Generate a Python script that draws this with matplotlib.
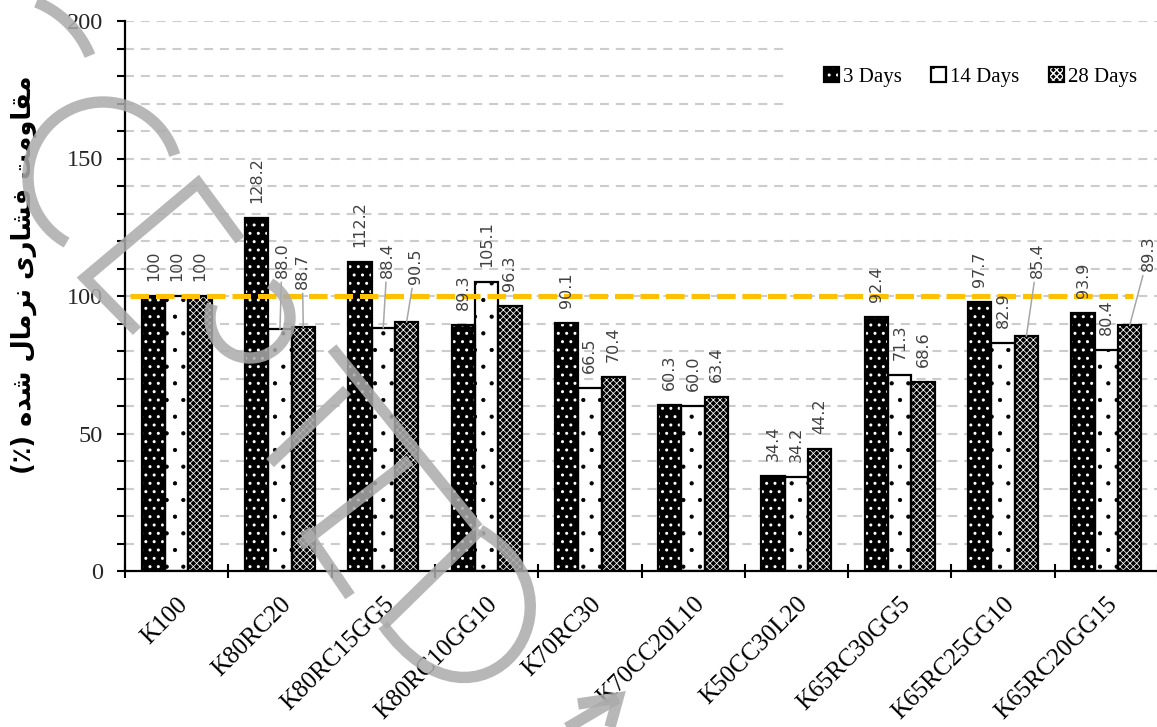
import numpy as np
import matplotlib.pyplot as plt
from matplotlib.patches import Patch
from matplotlib.path import Path
from matplotlib.patches import PathPatch
from matplotlib.legend_handler import HandlerTuple

# compressive strength normalised to K100 (%)
mixes = ['K100', 'K80RC20', 'K80RC15GG5', 'K80RC10GG10', 'K70RC30',
         'K70CC20L10', 'K50CC30L20', 'K65RC30GG5', 'K65RC25GG10', 'K65RC20GG15']
days_3 = [100, 128.2, 112.2, 89.3, 90.1, 60.3, 34.4, 92.4, 97.7, 93.9]
days_14 = [100, 88.0, 88.4, 105.1, 66.5, 60.0, 34.2, 71.3, 82.9, 80.4]
days_28 = [100, 88.7, 90.5, 96.3, 70.4, 63.4, 44.2, 68.6, 85.4, 89.3]
series_names = ['3 Days', '14 Days', '28 Days']
ref_level = 100

# y label, written in display order with arabic presentation forms
ylabel_fa = ('(\u066a) '
             '\ufee9\ufeaa\ufeb7 '
             '\ufedd\ufe8e\ufee3\ufeae\ufee7 '
             '\ufeef\ufead\ufe8e\ufeb8\ufed3 '
             '\ufe96\ufee3\ufeed\ufe8e\ufed8\ufee3')

# labels that were dragged off the bar: (series, group) -> (dx px, dy px)
nudge = {(1, 1): (2, 36), (2, 1): (-1, 23), (1, 2): (4, 35),
         (2, 2): (9, 23), (2, 8): (11, 43), (2, 9): (19, 39)}

fig = plt.figure(figsize=(11.57, 7.27), dpi=100)
ax = fig.add_axes([125 / 1157, 1 - 571 / 727, 1033 / 1157, 550 / 727])

x = np.arange(len(mixes))
w = 0.226
styles = [dict(face='black', hatch='..', hc='white', hlw=1.0),
          dict(face='white', hatch='.', hc='black', hlw=0.6),
          dict(face='black', hatch='xxxxx', hc='white', hlw=0.55)]

handles = []
for i, vals in enumerate([days_3, days_14, days_28]):
    st = styles[i]
    pos = x + (i - 1) * w
    with plt.rc_context({'hatch.linewidth': st['hlw']}):
        ax.bar(pos, vals, w, color=st['face'], edgecolor=st['hc'], hatch=st['hatch'],
               linewidth=0, zorder=2)
        fill_h = Patch(facecolor=st['face'], edgecolor=st['hc'], hatch=st['hatch'], linewidth=0)
    ax.bar(pos, vals, w, fill=False, edgecolor='black', linewidth=1.6, zorder=3)
    handles.append((fill_h, Patch(fill=False, edgecolor='black', linewidth=1.6)))
    for j, v in enumerate(vals):
        txt = '100' if v == 100 else f'{v:.1f}'
        dx, dy = nudge.get((i, j), (0, 0))
        kw = {}
        if (i, j) in nudge:
            kw['arrowprops'] = dict(arrowstyle='-', color='#a6a6a6', lw=1.1,
                                    shrinkA=1, shrinkB=0)
        ax.annotate(txt, (pos[j], v), xytext=(dx * 0.72, (15 + dy) * 0.72),
                    textcoords='offset points', rotation=90, ha='center', va='bottom',
                    fontsize=11.5, color='#404040', family='DejaVu Sans', zorder=6, **kw)

# reference level
ax.axhline(ref_level, xmin=0.005, xmax=0.976, color='#ffc000', lw=3.6,
           dashes=(3.7, 1.4), zorder=5, solid_capstyle='butt')

ax.set_xlim(-0.5, len(mixes) - 0.5)
ax.set_ylim(0, 200)
ax.set_yticks(np.arange(0, 201, 50))
ax.set_yticks(np.arange(0, 201, 10), minor=True)
ax.set_yticklabels([str(v) for v in range(0, 201, 50)], family='Liberation Serif',
                   fontsize=17.5, color='#262626')
ax.tick_params(axis='y', which='both', length=6, width=1.5, direction='out', pad=10)
for yv in np.arange(10, 201, 10):
    ax.axhline(yv, color='#cccccc', lw=1.5, dashes=(4.3, 3.3), zorder=0)

ax.set_xticks(np.arange(-0.5, len(mixes), 1.0))
ax.set_xticklabels([])
ax.tick_params(axis='x', which='major', direction='inout', length=10, width=1.5)
ax.set_xticks(x, minor=True)
ax.set_xticklabels(mixes, minor=True, rotation=45, ha='right', rotation_mode='anchor',
                   family='Liberation Serif', fontsize=18)
ax.tick_params(axis='x', which='minor', length=0, pad=16)

for s in ['top', 'right']:
    ax.spines[s].set_visible(False)
for s in ['left', 'bottom']:
    ax.spines[s].set_linewidth(1.6)
ax.spines['bottom'].set_zorder(4)

leg = ax.legend(handles, series_names, loc='center', bbox_to_anchor=(0.828, 0.898),
                ncol=3, frameon=True, fancybox=False, edgecolor='none', facecolor='white',
                framealpha=1, prop={'family': 'Liberation Serif', 'size': 15},
                handlelength=0.72, handleheight=0.72, handletextpad=0.2,
                columnspacing=1.4, borderpad=1.6,
                handler_map={tuple: HandlerTuple(ndivide=1, pad=0)})
leg.set_zorder(7)

fig.text(0.021, 0.622, ylabel_fa, rotation=90, ha='center', va='center',
         fontsize=18.5, fontweight='bold', family='DejaVu Sans')

# grey stamp drawn over the chart
wm = fig.add_axes([0, 0, 1, 1], zorder=20)
wm.set_xlim(0, 1157)
wm.set_ylim(727, 0)
wm.axis('off')
wm.patch.set_alpha(0)
stamp = '#ababab'
gray = dict(color=stamp, alpha=0.85, lw=8.2, solid_capstyle='butt', solid_joinstyle='miter')


def arc(cx, cy, r, t0, t1):
    t = np.radians(np.linspace(t0, t1, 80))
    return cx + r * np.cos(t), cy - r * np.sin(t)


for cx, cy, r, t0, t1 in [(0, 92, 97, 22, 68), (103, 177, 75, 17, 241),
                          (250, 318, 40, 60, -200)]:
    wm.plot(*arc(cx, cy, r, t0, t1), **gray)

strokes = [[(137, 331), (85, 278), (198, 183), (240, 240)],
           [(270, 463), (347, 390)],
           [(332, 348), (478, 528)],
           [(305, 530), (350, 596)],
           [(300, 545), (410, 460)],
           [(383, 625), (480, 530)],
           [(555, 735), (618, 698)],
           [(578, 704), (618, 698), (610, 727)]]
for pts in strokes:
    xs, ys = zip(*pts)
    wm.plot(xs, ys, **gray)

d_curve = Path([(480, 530), (600, 600), (480, 760), (383, 625)],
               [Path.MOVETO, Path.CURVE4, Path.CURVE4, Path.CURVE4])
wm.add_patch(PathPatch(d_curve, fill=False, edgecolor=stamp, alpha=0.85, lw=8.2))

fig.savefig('out.png', dpi=100)
